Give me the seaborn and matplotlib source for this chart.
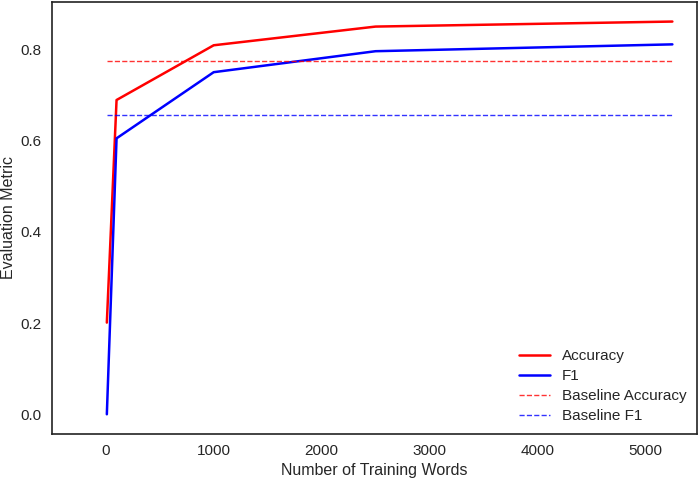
import matplotlib
matplotlib.use("Agg")
import matplotlib.pyplot as plt
import seaborn as sns
import pandas as pd

words = [10, 100, 1000, 2500, 5250]
accuracy = [0.201, 0.689, 0.809, 0.850, 0.861]
f1 = [0.0, 0.605, 0.750, 0.796, 0.811]
baseline_accuracy = 0.774
baseline_f1 = 0.656

sns.set_style("white")
plt.rcParams["font.family"] = ["Liberation Sans", "DejaVu Sans"]

df = pd.DataFrame({"words": words, "Accuracy": accuracy, "F1": f1,
                   "Baseline Accuracy": [baseline_accuracy] * len(words),
                   "Baseline F1": [baseline_f1] * len(words)})

fig, ax = plt.subplots(figsize=(7, 4.8), dpi=100)
sns.lineplot(data=df, x="words", y="Accuracy", color="red", lw=1.8, label="Accuracy", ax=ax)
sns.lineplot(data=df, x="words", y="F1", color="blue", lw=1.8, label="F1", ax=ax)
sns.lineplot(data=df, x="words", y="Baseline Accuracy", color="red", lw=1, ls="--",
             alpha=0.8, label="Baseline Accuracy", ax=ax)
sns.lineplot(data=df, x="words", y="Baseline F1", color="blue", lw=1, ls="--",
             alpha=0.8, label="Baseline F1", ax=ax)

ax.set_xlim(-500, 5480)
ax.set_xticks([0, 1000, 2000, 3000, 4000, 5000])
ax.set_yticks([0.0, 0.2, 0.4, 0.6, 0.8])
ax.set_xlabel("Number of Training Words", fontsize=11.5, labelpad=3)
ax.set_ylabel("Evaluation Metric", fontsize=11.5)
ax.yaxis.set_label_coords(-0.056, 0.5)
ax.tick_params(labelsize=11, pad=4)
for s in ax.spines.values():
    s.set_color("#222222")
    s.set_linewidth(1.2)
ax.legend(loc="lower right", frameon=False, fontsize=11, borderaxespad=0.3,
          labelspacing=0.4)

fig.subplots_adjust(left=0.074, right=0.996, top=0.996, bottom=0.096)
plt.savefig("out.png")
